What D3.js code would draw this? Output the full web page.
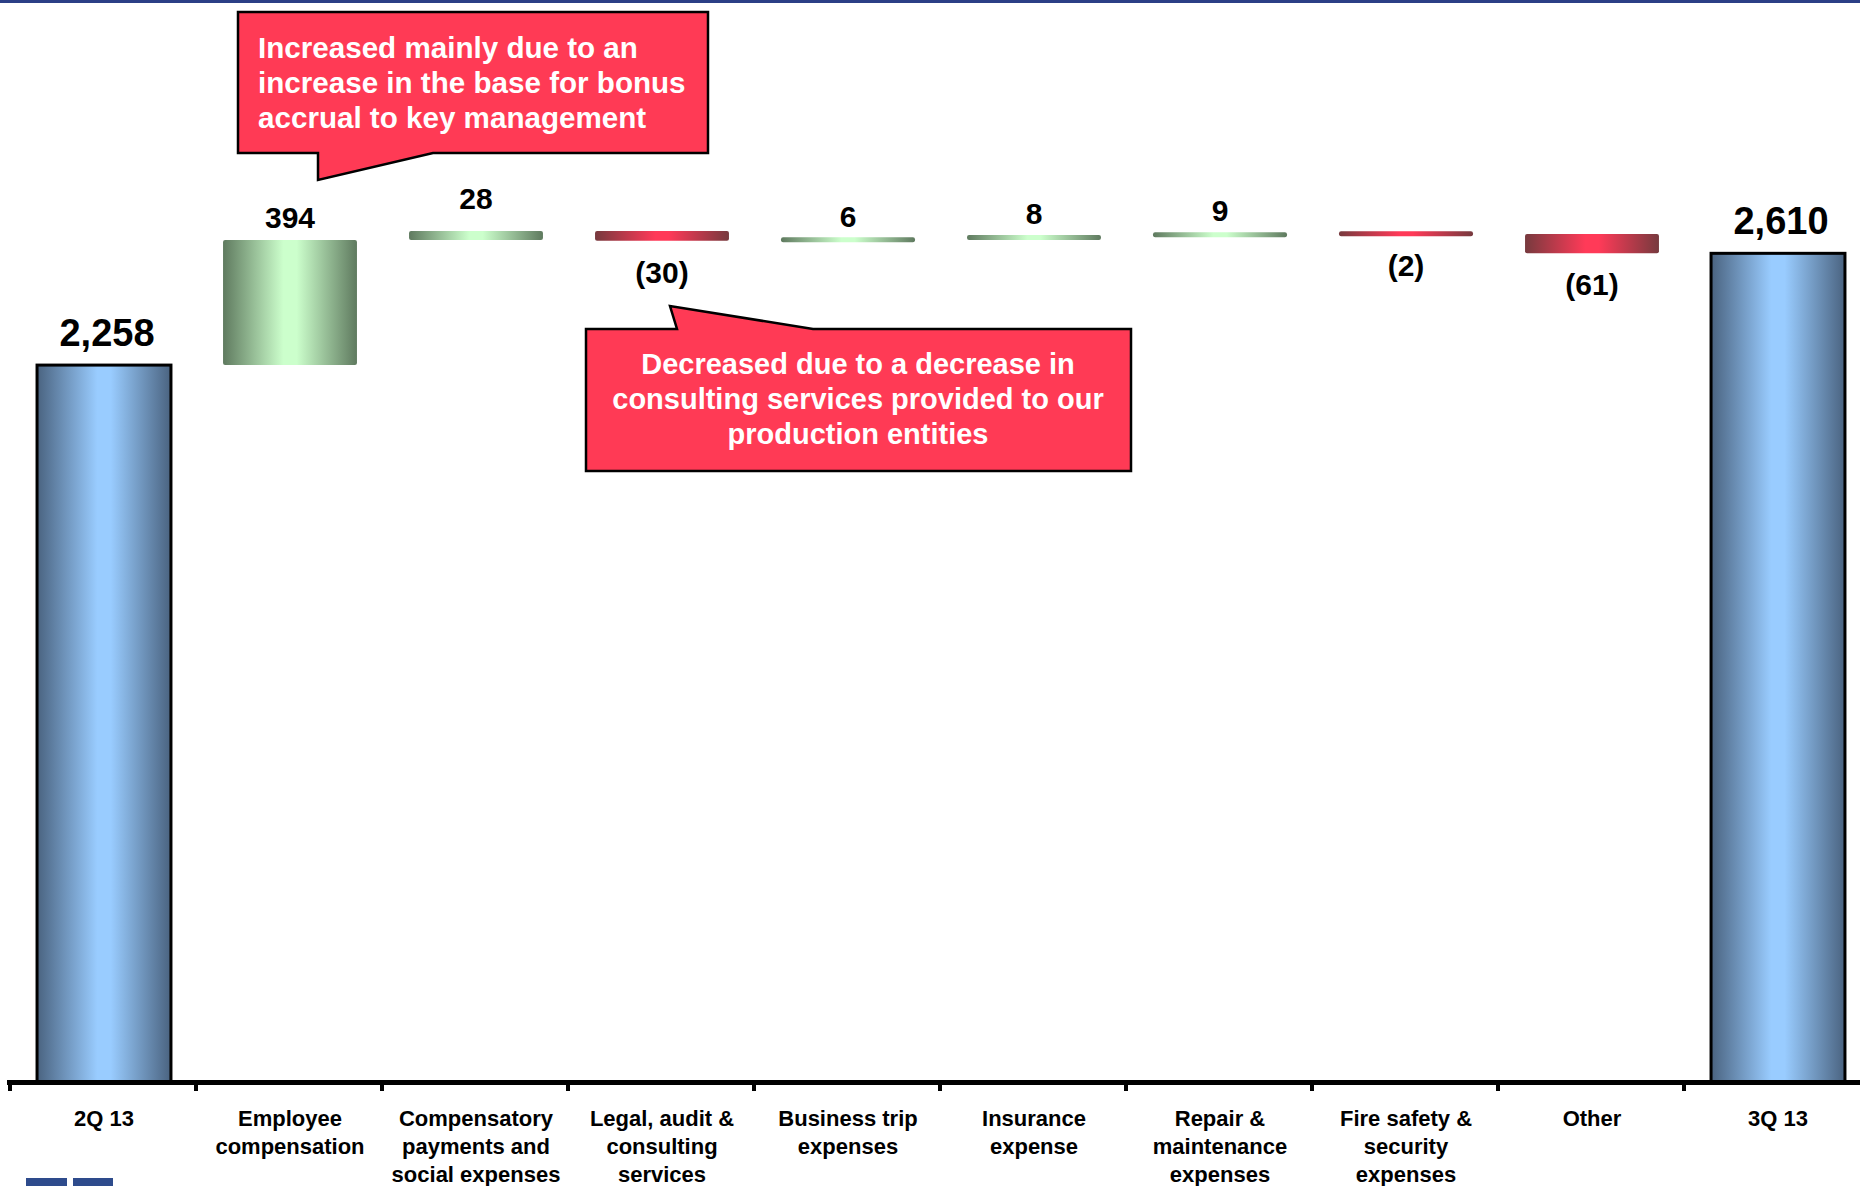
<!DOCTYPE html>
<html>
<head>
<meta charset="utf-8">
<script src="https://cdn.jsdelivr.net/npm/d3@7"></script>
<style>
  html, body { margin: 0; padding: 0; background: #ffffff; }
  svg { display: block; }
  text { font-family: "Liberation Sans", Arial, sans-serif; font-weight: bold; }
</style>
</head>
<body>
<svg id="chart" width="1860" height="1186"></svg>
<script>
// ---- data ----
const categories = ["2Q 13", "Employee compensation", "Compensatory payments and social expenses",
  "Legal, audit & consulting services", "Business trip expenses", "Insurance expense",
  "Repair & maintenance expenses", "Fire safety & security expenses", "Other", "3Q 13"];
const categoryLines = [
  ["2Q 13"], ["Employee", "compensation"], ["Compensatory", "payments and", "social expenses"],
  ["Legal, audit &", "consulting", "services"], ["Business trip", "expenses"], ["Insurance", "expense"],
  ["Repair &", "maintenance", "expenses"], ["Fire safety &", "security", "expenses"], ["Other"], ["3Q 13"]
];
const values = [2258, 394, 28, -30, 6, 8, 9, -2, -61, 2610];
const kinds = ["total", "delta", "delta", "delta", "delta", "delta", "delta", "delta", "delta", "total"];
const valueLabels = ["2,258", "394", "28", "(30)", "6", "8", "9", "(2)", "(61)", "2,610"];
const notes = [
  { lines: ["Increased mainly due to an", "increase in the base for bonus", "accrual to key management"] },
  { lines: ["Decreased due to a decrease in", "consulting services provided to our", "production entities"] }
];

// ---- layout ----
const W = 1860, H = 1186;
const svg = d3.select("#chart");
const x = d3.scaleBand().domain(categories).range([11, 1871]).paddingInner(0.28).paddingOuter(0.14);
const y = d3.scaleLinear().domain([0, 3400]).range([1082, 2.5]);

// build waterfall rows
let run = 0;
const rows = categories.map((c, i) => {
  let start, end;
  if (kinds[i] === "total") { start = 0; end = values[i]; run = values[i]; }
  else { start = run; end = run + values[i]; run = end; }
  return { cat: c, i, v: values[i], kind: kinds[i], start, end, label: valueLabels[i] };
});

// gradients
const defs = svg.append("defs");
function grad(id, edge, center) {
  const g = defs.append("linearGradient").attr("id", id).attr("x1", "0%").attr("x2", "100%").attr("y1", "0%").attr("y2", "0%");
  g.append("stop").attr("offset", "0%").attr("stop-color", edge);
  g.append("stop").attr("offset", "45%").attr("stop-color", center);
  g.append("stop").attr("offset", "55%").attr("stop-color", center);
  g.append("stop").attr("offset", "100%").attr("stop-color", edge);
}
grad("gBlue", "#4a6380", "#99ccff");
grad("gGreen", "#5f7a5f", "#ccffcc");
grad("gRed", "#773a3e", "#ff3a58");

// top rule
svg.append("rect").attr("x", 0).attr("y", 0).attr("width", W).attr("height", 3).attr("fill", "#2b3f86");

// bars
const MINH = 5;
svg.append("g").selectAll("rect").data(rows).join("rect")
  .attr("x", d => x(d.cat))
  .attr("width", x.bandwidth())
  .attr("y", d => {
    const a = y(d.start), b = y(d.end);
    const top = Math.min(a, b), h = Math.abs(a - b);
    if (d.kind === "total" || h >= MINH) return top;
    return (a + b) / 2 - MINH / 2;
  })
  .attr("height", d => Math.max(Math.abs(y(d.start) - y(d.end)), d.kind === "total" ? 0 : MINH))
  .attr("rx", d => d.kind === "total" ? 0 : 2)
  .attr("fill", d => d.kind === "total" ? "url(#gBlue)" : (d.v >= 0 ? "url(#gGreen)" : "url(#gRed)"))
  .attr("stroke", d => d.kind === "total" ? "#000" : "none")
  .attr("stroke-width", 3);

// value labels
svg.append("g").selectAll("text").data(rows).join("text")
  .attr("x", d => x(d.cat) + x.bandwidth() / 2 + (d.kind === "total" ? 3 : 0))
  .attr("y", d => {
    if (d.kind === "total") return y(d.end) - 19;
    const top = Math.min(y(d.start), y(d.end)), bot = Math.max(y(d.start), y(d.end));
    const h = bot - top;
    // taller up-steps carry their label a bit higher
    return d.v >= 0 ? top - 12 - (h > 6 && h < 20 ? 10 : 0) : bot + 42;
  })
  .attr("text-anchor", "middle")
  .attr("font-size", d => d.kind === "total" ? 38 : 30)
  .attr("fill", "#000")
  .text(d => d.label);

// axis
const axisY = 1082.5;
svg.append("line").attr("x1", 7).attr("x2", W).attr("y1", axisY).attr("y2", axisY)
  .attr("stroke", "#000").attr("stroke-width", 5);
const gap = (x.step() - x.bandwidth()) / 2;
svg.append("g").selectAll("line").data(categories).join("line")
  .attr("x1", c => x(c) - gap - 1).attr("x2", c => x(c) - gap - 1)
  .attr("y1", axisY).attr("y2", 1091)
  .attr("stroke", "#000").attr("stroke-width", 4);

// category labels
const lab = svg.append("g").selectAll("text").data(categories).join("text")
  .attr("x", c => x(c) + x.bandwidth() / 2)
  .attr("text-anchor", "middle")
  .attr("font-size", 22)
  .attr("fill", "#000");
lab.each(function (c, i) {
  d3.select(this).selectAll("tspan").data(categoryLines[i]).join("tspan")
    .attr("x", x(c) + x.bandwidth() / 2)
    .attr("y", (t, k) => 1126 + k * 28)
    .text(t => t);
});

// callouts
const callouts = [
  { path: "M238,12 H708 V153 H433 L318,180 V153 H238 Z", anchor: "start", tx: 258, ty: 58, size: 29.6, lines: notes[0].lines },
  { path: "M586,329 H677 L670,306 L813,329 H1131 V471 H586 Z", anchor: "middle", tx: 858, ty: 374, size: 29, lines: notes[1].lines }
];
callouts.forEach(co => {
  svg.append("path").attr("d", co.path).attr("fill", "#ff3a55").attr("stroke", "#000").attr("stroke-width", 2.5)
    .attr("stroke-linejoin", "miter");
  const t = svg.append("text").attr("text-anchor", co.anchor).attr("font-size", co.size).attr("fill", "#fff");
  t.selectAll("tspan").data(co.lines).join("tspan")
    .attr("x", co.tx).attr("y", (s, k) => co.ty + k * 35).text(s => s);
});

// logo fragment bottom-left
svg.append("rect").attr("x", 26).attr("y", 1178).attr("width", 41).attr("height", 8).attr("fill", "#2e4b8c");
svg.append("rect").attr("x", 73).attr("y", 1178).attr("width", 40).attr("height", 8).attr("fill", "#2e4b8c");
</script>
</body>
</html>
